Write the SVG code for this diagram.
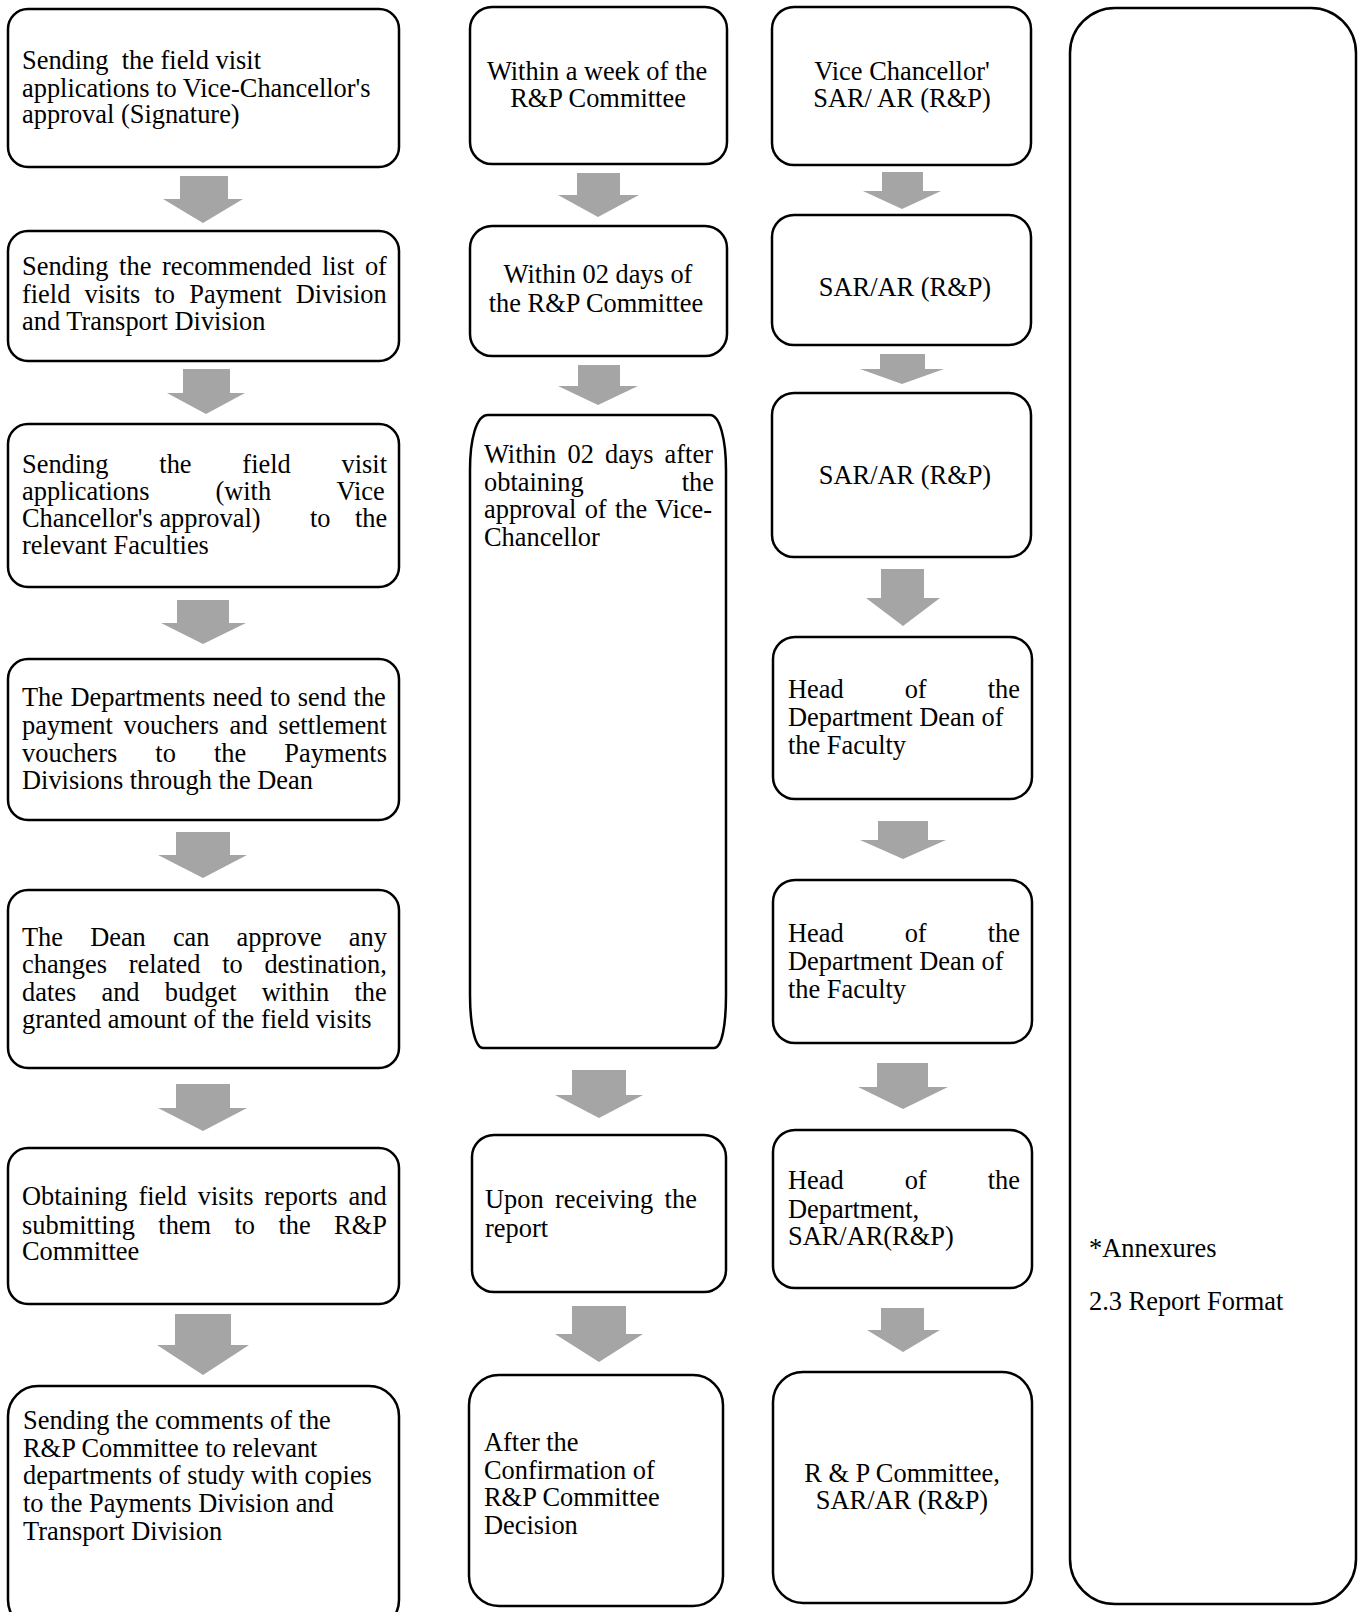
<svg xmlns="http://www.w3.org/2000/svg" width="1361" height="1612" viewBox="0 0 1361 1612">
<style>
.box{fill:#fff;stroke:#000;stroke-width:2.5}
.arr{fill:#a5a5a5;stroke:none}
text{font-family:'Liberation Serif','Times New Roman',serif;font-size:26.4px;fill:#000}
.c{text-anchor:middle}
</style>
<rect width="1361" height="1612" fill="#fff"/>
<g id="connectors">
<path class="arr" d="M180,176H228V199H243L203,223L163,199H180Z"/>
<path class="arr" d="M183,369H230V393H245L206,414L167,393H183Z"/>
<path class="arr" d="M177,600H229V623H246L203,644L161,623H177Z"/>
<path class="arr" d="M176,832H230V855H247L203,878L158,855H176Z"/>
<path class="arr" d="M176,1084H230V1108H247L203,1131L158,1108H176Z"/>
<path class="arr" d="M175,1314H231V1345H249L203,1375L157,1345H175Z"/>
<path class="arr" d="M577,173H620V195H639L598,217L558,195H577Z"/>
<path class="arr" d="M578,365H620V386H638L598,405L558,386H578Z"/>
<path class="arr" d="M572,1070H626V1095H643L599,1118L555,1095H572Z"/>
<path class="arr" d="M572,1306H626V1334H643L599,1362L555,1334H572Z"/>
<path class="arr" d="M882,172H923V191H941L902,209L863,191H882Z"/>
<path class="arr" d="M880,354H925V369H944L902,384L860,369H880Z"/>
<path class="arr" d="M881,569H924V598H940L903,626L866,598H881Z"/>
<path class="arr" d="M878,821H928V840H946L903,859L860,840H878Z"/>
<path class="arr" d="M877,1063H928V1087H948L903,1109L858,1087H877Z"/>
<path class="arr" d="M881,1308H924V1330H940L903,1352L867,1330H881Z"/>
</g>
<g id="n1">
<rect class="box" x="8" y="9" width="391" height="158" rx="20"/>
<text x="22" y="69" xml:space="preserve">Sending  the field visit</text>
<text x="22" y="97">applications to Vice-Chancellor's</text>
<text x="22" y="123">approval (Signature)</text>
</g>
<g id="n2">
<rect class="box" x="8" y="231" width="391" height="130" rx="20"/>
<text x="22" y="275" word-spacing="4">Sending the recommended list of</text>
<text x="22" y="303" word-spacing="7.6">field visits to Payment Division</text>
<text x="22" y="330">and Transport Division</text>
</g>
<g id="n3">
<rect class="box" x="8" y="424" width="391" height="163" rx="20"/>
<text x="22" y="473" word-spacing="44.2">Sending the field visit</text>
<text x="22" y="500" word-spacing="59.3">applications (with Vice</text>
<text y="527"><tspan x="22">Chancellor's approval)</tspan><tspan x="310">to</tspan><tspan x="355">the</tspan></text>
<text x="22" y="554">relevant Faculties</text>
</g>
<g id="n4">
<rect class="box" x="8" y="659" width="391" height="161" rx="20"/>
<text x="22" y="706" word-spacing="0.8">The Departments need to send the</text>
<text x="22" y="734" word-spacing="4.1">payment vouchers and settlement</text>
<text x="22" y="762" word-spacing="31.5">vouchers to the Payments</text>
<text x="22" y="789">Divisions through the Dean</text>
</g>
<g id="n5">
<rect class="box" x="8" y="890" width="391" height="178" rx="20"/>
<text x="22" y="946" word-spacing="20.5">The Dean can approve any</text>
<text x="22" y="973" word-spacing="15.1">changes related to destination,</text>
<text x="22" y="1001" word-spacing="18.6">dates and budget within the</text>
<text x="22" y="1028">granted amount of the field visits</text>
</g>
<g id="n6">
<rect class="box" x="8" y="1148" width="391" height="156" rx="20"/>
<text x="22" y="1205" word-spacing="4.3">Obtaining field visits reports and</text>
<text x="22" y="1234" word-spacing="16.8">submitting them to the R&amp;P</text>
<text x="22" y="1260">Committee</text>
</g>
<g id="n7">
<rect class="box" x="8" y="1386" width="391" height="244" rx="30"/>
<text x="23" y="1429">Sending the comments of the</text>
<text x="23" y="1457">R&amp;P Committee to relevant</text>
<text x="23" y="1484">departments of study with copies</text>
<text x="23" y="1512">to the Payments Division and</text>
<text x="23" y="1540">Transport Division</text>
</g>
<g id="m1">
<rect class="box" x="470" y="7" width="257" height="157" rx="22"/>
<text class="c" x="597" y="80">Within a week of the</text>
<text class="c" x="598" y="107">R&amp;P Committee</text>
</g>
<g id="m2">
<rect class="box" x="470" y="226" width="257" height="130" rx="22"/>
<text class="c" x="598" y="283">Within 02 days of</text>
<text class="c" x="596" y="312">the R&amp;P Committee</text>
</g>
<g id="m3">
<path class="box" d="M488,415L710,415C720,415 726,440 726,470L726,995C726,1025 722,1048 714,1048L483,1048C475,1048 470,1025 470,995L470,470C470,440 476,415 488,415Z"/>
<text x="484" y="463" word-spacing="4.6">Within 02 days after</text>
<text x="484" y="491" word-spacing="91.4">obtaining the</text>
<text x="484" y="518" word-spacing="1.7">approval of the Vice-</text>
<text x="484" y="546">Chancellor</text>
</g>
<g id="m4">
<rect class="box" x="472" y="1135" width="254" height="157" rx="22"/>
<text x="485" y="1208" word-spacing="4.8">Upon receiving the</text>
<text x="485" y="1237">report</text>
</g>
<g id="m5">
<rect class="box" x="469" y="1375" width="254" height="231" rx="30"/>
<text x="484" y="1451">After the</text>
<text x="484" y="1479">Confirmation of</text>
<text x="484" y="1506">R&amp;P Committee</text>
<text x="484" y="1534">Decision</text>
</g>
<g id="k1">
<rect class="box" x="772" y="7" width="259" height="158" rx="22"/>
<text class="c" x="902" y="80">Vice Chancellor'</text>
<text class="c" x="902" y="107">SAR/ AR (R&amp;P)</text>
</g>
<g id="k2">
<rect class="box" x="772" y="215" width="259" height="130" rx="22"/>
<text class="c" x="905" y="296">SAR/AR (R&amp;P)</text>
</g>
<g id="k3">
<rect class="box" x="772" y="393" width="259" height="164" rx="22"/>
<text class="c" x="905" y="484">SAR/AR (R&amp;P)</text>
</g>
<g id="k4">
<rect class="box" x="773" y="637" width="259" height="162" rx="22"/>
<text x="788" y="698" word-spacing="54.4">Head of the</text>
<text x="788" y="726">Department Dean of</text>
<text x="788" y="754">the Faculty</text>
</g>
<g id="k5">
<rect class="box" x="773" y="880" width="259" height="163" rx="22"/>
<text x="788" y="942" word-spacing="54.4">Head of the</text>
<text x="788" y="970">Department Dean of</text>
<text x="788" y="998">the Faculty</text>
</g>
<g id="k6">
<rect class="box" x="773" y="1130" width="259" height="158" rx="22"/>
<text x="788" y="1189" word-spacing="54.4">Head of the</text>
<text x="788" y="1218">Department,</text>
<text x="788" y="1245">SAR/AR(R&amp;P)</text>
</g>
<g id="k7">
<rect class="box" x="773" y="1372" width="259" height="231" rx="30"/>
<text class="c" x="902" y="1482">R &amp; P Committee,</text>
<text class="c" x="902" y="1509">SAR/AR (R&amp;P)</text>
</g>
<g id="annex">
<rect class="box" x="1070" y="8" width="286" height="1596" rx="45"/>
<text x="1089" y="1257">*Annexures</text>
<text x="1089" y="1310">2.3 Report Format</text>
</g>
</svg>
